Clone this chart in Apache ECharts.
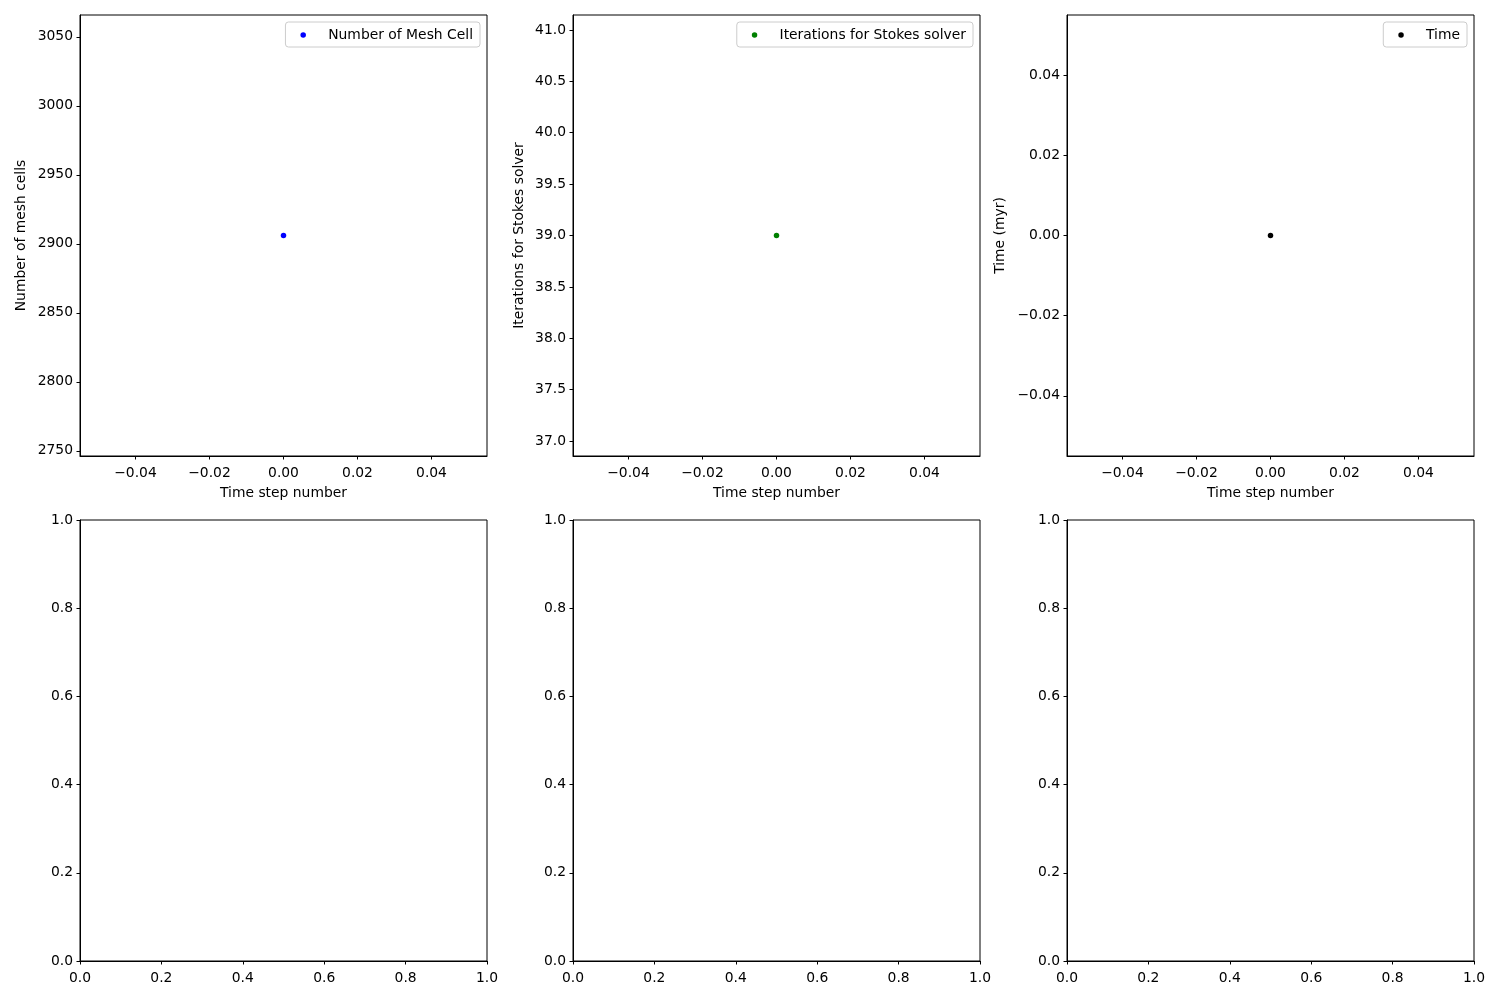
<!DOCTYPE html>
<html>
<head>
<meta charset="utf-8">
<script src="https://cdn.jsdelivr.net/npm/echarts@6/dist/echarts.min.js"></script>
<style>html,body{margin:0;padding:0;background:#fff;}#c{width:1500px;height:1000px;}</style>
</head>
<body>
<div id="c"></div>
<script>
// ---- data ----
const meshCells = [[0, 2906]];
const stokesIterations = [[0, 39]];
const timeMyr = [[0, 0]];

const seriesNames = ['Number of Mesh Cell', 'Iterations for Stokes solver', 'Time'];
const yAxisNames = ['Number of mesh cells', 'Iterations for Stokes solver', 'Time (myr)'];
const xAxisName = 'Time step number';

const xTicksTop = [-0.04, -0.02, 0.00, 0.02, 0.04];
const yTicksMesh = [2750, 2800, 2850, 2900, 2950, 3000, 3050];
const yTicksStokes = [37.0, 37.5, 38.0, 38.5, 39.0, 39.5, 40.0, 40.5, 41.0];
const yTicksTime = [-0.04, -0.02, 0.00, 0.02, 0.04];
const ticksBottom = [0.0, 0.2, 0.4, 0.6, 0.8, 1.0];

// axis ranges (matplotlib auto-range for single points)
const xRangeTop = [-0.055, 0.055];
const yRangeMesh = [2746.2, 3065.8];
const yRangeStokes = [36.855, 41.145];
const yRangeTime = [-0.055, 0.055];
const rangeBottom = [0, 1];

const colors = ['#0000ff', '#008000', '#000000'];

// ---- layout ----
const FONT = 'DejaVu Sans';
const FS = 13.89;
const colLeft = [80, 573, 1067];
const W = 407;
const rowTop = [15, 520];
const H = 441;

const fmt = d => v => v.toFixed(d).replace('-', '\u2212');

function axisBase(range, ticks, dec, isX) {
  return {
    type: 'value',
    min: range[0], max: range[1],
    splitLine: {show: false},
    axisLine: {show: true, onZero: false, lineStyle: {color: '#000', width: 1}},
    axisTick: {show: true, inside: false, length: 3.5, customValues: ticks, lineStyle: {color: '#000', width: 1}},
    axisLabel: {show: true, margin: isX ? 10 : 7, padding: isX ? 0 : [3, 0, 0, 0], customValues: ticks, formatter: fmt(dec), color: '#000', fontFamily: FONT, fontSize: FS},
    nameTextStyle: {color: '#000', fontFamily: FONT, fontSize: FS},
  };
}

const grids = [], xAxes = [], yAxes = [], series = [], legends = [];
const yTop = [[yRangeMesh, yTicksMesh, 0], [yRangeStokes, yTicksStokes, 1], [yRangeTime, yTicksTime, 2]];
const yNameGaps = [52, 47, 60];
const dataSets = [meshCells, stokesIterations, timeMyr];

for (let r = 0; r < 2; r++) {
  for (let c = 0; c < 3; c++) {
    const idx = r * 3 + c;
    grids.push({left: colLeft[c], top: rowTop[r], width: W, height: H, show: true, borderColor: '#000', borderWidth: 1, backgroundColor: 'transparent', containLabel: false});
    if (r === 0) {
      const xa = axisBase(xRangeTop, xTicksTop, 2, true);
      xa.gridIndex = idx; xa.name = xAxisName; xa.nameLocation = 'middle'; xa.nameGap = 30;
      xAxes.push(xa);
      const ya = axisBase(yTop[c][0], yTop[c][1], yTop[c][2], false);
      ya.gridIndex = idx; ya.name = yAxisNames[c]; ya.nameLocation = 'middle'; ya.nameGap = yNameGaps[c];
      yAxes.push(ya);
      series.push({
        name: seriesNames[c], type: 'scatter', xAxisIndex: idx, yAxisIndex: idx,
        data: dataSets[c], symbol: 'circle', symbolSize: 5.5,
        itemStyle: {color: colors[c], opacity: 1}, emphasis: {disabled: true}, animation: false
      });
      legends.push({
        data: [{name: seriesNames[c], icon: 'circle'}],
        right: 1500 - (colLeft[c] + W - 7), top: 22,
        orient: 'vertical',
        itemWidth: 28, itemHeight: 5.5,
        padding: [6, 7, 5, 15],
        borderColor: '#cccccc', borderWidth: 1, borderRadius: 3,
        backgroundColor: 'rgba(255,255,255,0.8)',
        selectedMode: false,
        textStyle: {color: '#000', fontFamily: FONT, fontSize: FS, padding: [0, 0, 0, 6]}
      });
    } else {
      const xa = axisBase(rangeBottom, ticksBottom, 1, true);
      xa.gridIndex = idx;
      xAxes.push(xa);
      const ya = axisBase(rangeBottom, ticksBottom, 1, false);
      ya.gridIndex = idx;
      yAxes.push(ya);
    }
  }
}

const chart = echarts.init(document.getElementById('c'), null, {renderer: 'canvas'});
chart.setOption({
  backgroundColor: '#ffffff',
  animation: false,
  grid: grids,
  xAxis: xAxes,
  yAxis: yAxes,
  legend: legends,
  series: series
});
</script>
</body>
</html>
